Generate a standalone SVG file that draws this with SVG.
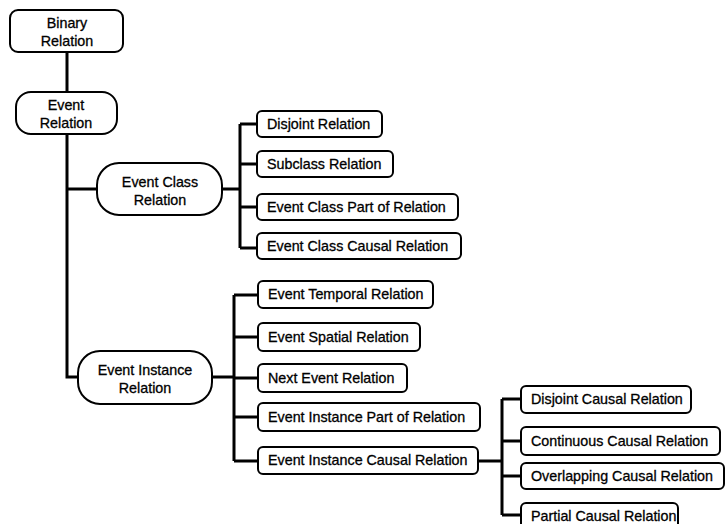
<svg xmlns="http://www.w3.org/2000/svg" width="725" height="524" viewBox="0 0 725 524">
<style>
.b{fill:#fff;stroke:#000;stroke-width:2}
.t{font-family:"Liberation Sans",Arial,sans-serif;font-size:14.3px;fill:#000;stroke:#000;stroke-width:0.3}
.c{text-anchor:middle}
.l{fill:none;stroke:#000;stroke-width:3}
</style>
<rect width="725" height="524" fill="#fff"/>
<g id="connectors">
<path class="l" d="M67 52V92M67 134V377H78M67 189H97"/>
<path class="l" d="M222 189H240M240 124V248M240 124H257M240 164H257M240 207H257M240 248H257"/>
<path class="l" d="M212 377H234M234 295V461M234 295H258M234 337H258M234 378H258M234 417H258M234 461H258"/>
<path class="l" d="M478 461H502M502 399V515M502 399H521M502 441H521M502 476H521M502 515H521"/>
</g>
<g id="binary"><rect class="b" x="10" y="10" width="113" height="42" rx="8"/><text class="t c" x="67" y="28">Binary</text><text class="t c" x="67" y="46">Relation</text></g>
<g id="event"><rect class="b" x="16" y="92" width="101" height="42" rx="15"/><text class="t c" x="66" y="110">Event</text><text class="t c" x="66" y="128">Relation</text></g>
<g id="eventClass"><rect class="b" x="97" y="163" width="125" height="52" rx="22"/><text class="t c" x="160" y="187">Event Class</text><text class="t c" x="160" y="205">Relation</text></g>
<g id="disjoint"><rect class="b" x="257" y="111" width="125" height="26" rx="5"/><text class="t" x="267" y="129">Disjoint Relation</text></g>
<g id="subclass"><rect class="b" x="257" y="151" width="136" height="26" rx="5"/><text class="t" x="267" y="169">Subclass Relation</text></g>
<g id="classPart"><rect class="b" x="257" y="194" width="201" height="26" rx="5"/><text class="t" x="267" y="212">Event Class Part of Relation</text></g>
<g id="classCausal"><rect class="b" x="257" y="233" width="204" height="26" rx="5"/><text class="t" x="267" y="251">Event Class Causal Relation</text></g>
<g id="eventInstance"><rect class="b" x="78" y="351" width="134" height="53" rx="22"/><text class="t c" x="145" y="375">Event Instance</text><text class="t c" x="145" y="393">Relation</text></g>
<g id="temporal"><rect class="b" x="258" y="281" width="175" height="27" rx="5"/><text class="t" x="268" y="299">Event Temporal Relation</text></g>
<g id="spatial"><rect class="b" x="258" y="323" width="162" height="28" rx="5"/><text class="t" x="268" y="342">Event Spatial Relation</text></g>
<g id="next"><rect class="b" x="258" y="364" width="149" height="28" rx="5"/><text class="t" x="268" y="383">Next Event Relation</text></g>
<g id="instPart"><rect class="b" x="258" y="403" width="222" height="28" rx="5"/><text class="t" x="268" y="422">Event Instance Part of Relation</text></g>
<g id="instCausal"><rect class="b" x="258" y="447" width="220" height="27" rx="5"/><text class="t" x="268" y="465">Event Instance Causal Relation</text></g>
<g id="disjointCausal"><rect class="b" x="521" y="386" width="170" height="27" rx="5"/><text class="t" x="531" y="404">Disjoint Causal Relation</text></g>
<g id="continuous"><rect class="b" x="521" y="427" width="199" height="28" rx="5"/><text class="t" x="531" y="446">Continuous Causal Relation</text></g>
<g id="overlapping"><rect class="b" x="521" y="463" width="203" height="26" rx="5"/><text class="t" x="531" y="481">Overlapping Causal Relation</text></g>
<g id="partial"><rect class="b" x="521" y="503" width="157" height="30" rx="5"/><text class="t" x="531" y="521">Partial Causal Relation</text></g>
</svg>
